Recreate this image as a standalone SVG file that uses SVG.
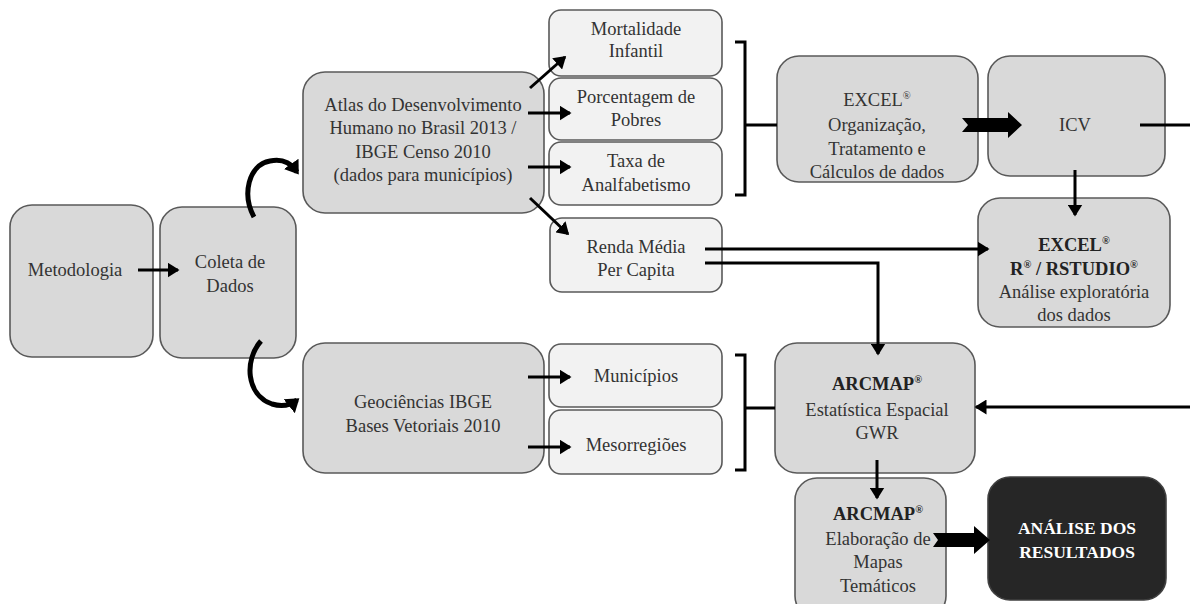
<svg xmlns="http://www.w3.org/2000/svg" width="1190" height="604" viewBox="0 0 1190 604">
<style>
.g{fill:#d9d9d9;stroke:#595959;stroke-width:1.6}
.l{fill:#f2f2f2;stroke:#595959;stroke-width:1.6}
.d{fill:#262626;stroke:#404040;stroke-width:1.6}
text{font-family:'Liberation Serif','DejaVu Serif',serif;font-size:18.5px;fill:#333;text-anchor:middle}
.b{font-weight:bold;fill:#222}
.w{font-weight:bold;fill:#fff;font-size:17.5px}
.c{fill:none;stroke:#000;stroke-width:3}
.cv{fill:none;stroke:#000;stroke-width:5}
.sup{font-size:10.5px}
</style>
<defs>
<marker id="ah" markerWidth="5" markerHeight="5" refX="3.5" refY="2.5" orient="auto" markerUnits="strokeWidth">
<path d="M0,0 L4,2.5 L0,5 Z" fill="#000"/>
</marker>
<marker id="ahc" markerWidth="4" markerHeight="4" refX="2" refY="2" orient="auto" markerUnits="strokeWidth">
<path d="M0,0.2 L2.6,2 L0,3.8 Z" fill="#000"/>
</marker>
</defs>

<g id="n-metodologia"><rect class="g" x="10" y="205" width="143" height="152" rx="22"/><text x="75" y="276">Metodologia</text></g>
<g id="n-coleta"><rect class="g" x="160" y="207" width="136" height="151" rx="22"/><text x="230" y="268">Coleta de</text><text x="230" y="292">Dados</text></g>
<g id="n-atlas"><rect class="g" x="303" y="72" width="241" height="141" rx="22"/>
<text x="423" y="111">Atlas do Desenvolvimento</text><text x="423" y="134">Humano no Brasil 2013 /</text><text x="423" y="158">IBGE Censo 2010</text><text x="423" y="181">(dados para municípios)</text></g>
<g id="n-mortalidade"><rect class="l" x="549" y="10" width="173" height="66" rx="12"/><text x="636" y="35">Mortalidade</text><text x="636" y="57">Infantil</text></g>
<g id="n-pobres"><rect class="l" x="549" y="78" width="173" height="62" rx="12"/><text x="636" y="103">Porcentagem de</text><text x="636" y="126">Pobres</text></g>
<g id="n-analfabetismo"><rect class="l" x="549" y="142" width="173" height="63" rx="12"/><text x="636" y="167">Taxa de</text><text x="636" y="191">Analfabetismo</text></g>
<g id="n-renda"><rect class="l" x="550" y="218" width="172" height="74" rx="12"/><text x="636" y="253">Renda Média</text><text x="636" y="276">Per Capita</text></g>
<g id="n-excel1"><rect class="g" x="777" y="56" width="201" height="126" rx="22"/>
<text x="877" y="106">EXCEL<tspan class="sup" dy="-7">®</tspan></text><text x="877" y="131">Organização,</text><text x="877" y="155">Tratamento e</text><text x="877" y="178">Cálculos de dados</text></g>
<g id="n-icv"><rect class="g" x="988" y="56" width="177" height="120" rx="22"/><text x="1075" y="131">ICV</text></g>
<g id="n-excel2"><rect class="g" x="978" y="198" width="192" height="129" rx="22"/>
<text class="b" x="1074" y="251">EXCEL<tspan class="sup" dy="-7">®</tspan></text>
<text class="b" x="1074" y="275">R<tspan class="sup" dy="-7">®</tspan><tspan dy="7"> / RSTUDIO</tspan><tspan class="sup" dy="-7">®</tspan></text>
<text x="1074" y="298">Análise exploratória</text><text x="1074" y="321">dos dados</text></g>
<g id="n-geociencias"><rect class="g" x="303" y="343" width="241" height="130" rx="22"/><text x="423" y="408">Geociências IBGE</text><text x="423" y="432">Bases Vetoriais 2010</text></g>
<g id="n-municipios"><rect class="l" x="549" y="344" width="173" height="63" rx="12"/><text x="636" y="382">Municípios</text></g>
<g id="n-mesorregioes"><rect class="l" x="549" y="410" width="173" height="64" rx="12"/><text x="636" y="451">Mesorregiões</text></g>
<g id="n-arcmap1"><rect class="g" x="775" y="343" width="200" height="130" rx="22"/>
<text class="b" x="877" y="390">ARCMAP<tspan class="sup" dy="-7">®</tspan></text><text x="877" y="416">Estatística Espacial</text><text x="877" y="439">GWR</text></g>
<g id="n-arcmap2"><rect class="g" x="795" y="478" width="151" height="140" rx="22"/>
<text class="b" x="878" y="520">ARCMAP<tspan class="sup" dy="-7">®</tspan></text><text x="878" y="545">Elaboração de</text><text x="878" y="568">Mapas</text><text x="878" y="592">Temáticos</text></g>
<g id="n-analise"><rect class="d" x="988" y="477" width="178" height="123" rx="22"/>
<text class="w" x="1077" y="534">ANÁLISE DOS</text><text class="w" x="1077" y="558">RESULTADOS</text></g>

<g id="connectors">
<line class="c" x1="138" y1="270" x2="178" y2="270" marker-end="url(#ah)"/>
<path class="cv" d="M254,217 C242,195 248,165 270,161 C285,158 292,165 297,172" marker-end="url(#ahc)"/>
<path class="cv" d="M261,341 C244,360 246,395 272,404 C285,408 292,404 297,400" marker-end="url(#ahc)"/>
<line class="c" x1="530" y1="88" x2="565" y2="57" marker-end="url(#ah)"/>
<line class="c" x1="528" y1="113" x2="570" y2="113" marker-end="url(#ah)"/>
<line class="c" x1="528" y1="167" x2="570" y2="167" marker-end="url(#ah)"/>
<line class="c" x1="530" y1="198" x2="568" y2="234" marker-end="url(#ah)"/>
<path class="c" d="M735,42 H745 V195 H735 M745,125 H777"/>
<path d="M962,118 L1008,118 L1008,112 L1022,125 L1008,138 L1008,132 L962,132 L968,125 Z" fill="#000"/>
<line class="c" x1="1140" y1="125" x2="1190" y2="125"/>
<line class="c" x1="1075" y1="170" x2="1075" y2="215" marker-end="url(#ah)"/>
<line class="c" x1="705" y1="249" x2="988" y2="249" marker-end="url(#ah)"/>
<path class="c" d="M705,263 H878 V354" marker-end="url(#ah)"/>
<line class="c" x1="528" y1="377" x2="570" y2="377" marker-end="url(#ah)"/>
<line class="c" x1="528" y1="447" x2="570" y2="447" marker-end="url(#ah)"/>
<path class="c" d="M735,355 H745 V470 H735 M745,408 H775"/>
<line class="c" x1="1190" y1="407" x2="976" y2="407" marker-end="url(#ah)"/>
<line class="c" x1="877" y1="460" x2="877" y2="498" marker-end="url(#ah)"/>
<path d="M933,533 L974,533 L974,526 L990,540 L974,554 L974,547 L933,547 L938,540 Z" fill="#000"/>
</g>
</svg>
